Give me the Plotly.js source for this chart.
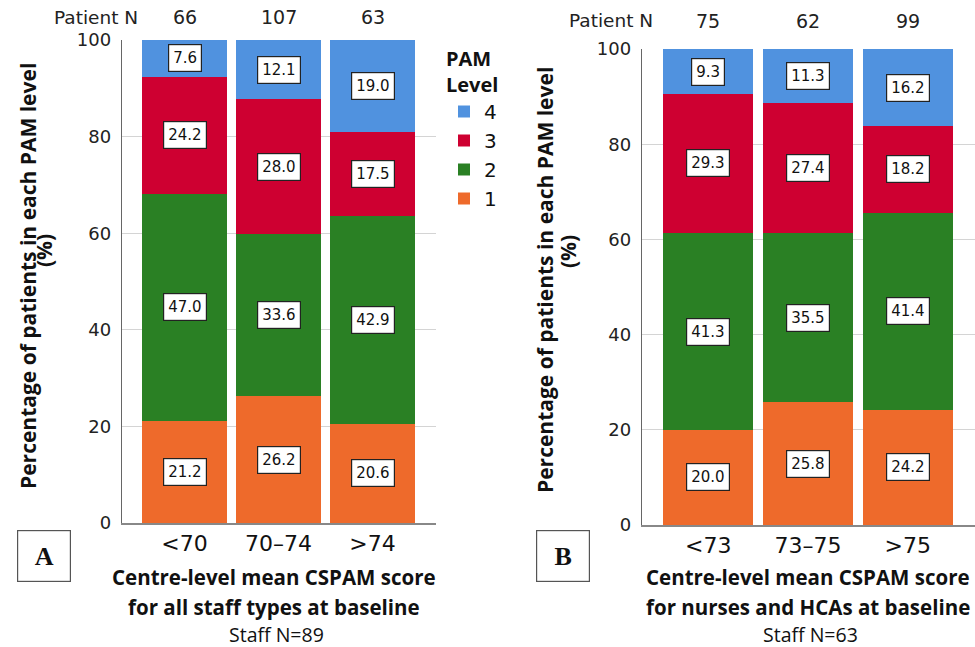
<!DOCTYPE html>
<html>
<head>
<meta charset="utf-8">
<script src="https://cdn.plot.ly/plotly-3.0.1.min.js"></script>
<style>html,body{margin:0;padding:0;background:#fff;}#chart{width:975px;height:647px;}</style>
</head>
<body>
<div id="chart"></div>
<script>
// ---- Data ----
const levels = ['1', '2', '3', '4'];
const catsA = ['<70', '70–74', '>74'];
const patientNA = [66, 107, 63];
const a_L1 = [21.2, 26.2, 20.6];
const a_L2 = [47.0, 33.6, 42.9];
const a_L3 = [24.2, 28.0, 17.5];
const a_L4 = [7.6, 12.1, 19.0];
const staffNA = 89;

const catsB = ['<73', '73–75', '>75'];
const patientNB = [75, 62, 99];
const b_L1 = [20.0, 25.8, 24.2];
const b_L2 = [41.3, 35.5, 41.4];
const b_L3 = [29.3, 27.4, 18.2];
const b_L4 = [9.3, 11.3, 16.2];
const staffNB = 63;

const colors = ['#EE6A2B', '#2A8024', '#CE0031', '#5092DF'];

const yTitle = 'Percentage of patients in each PAM level';
const xTitleA = ['Centre-level mean CSPAM score', 'for all staff types at baseline'];
const xTitleB = ['Centre-level mean CSPAM score', 'for nurses and HCAs at baseline'];

// ---- Build ----
const W = 975, H = 647;
const px = x => x / W;
const py = y => 1 - y / H;

const numFamily = 'DejaVu Sans, Verdana, sans-serif';
const txtFamily = 'Open Sans, Noto Sans, sans-serif';
const tickFont = {family: numFamily, size: 18, color: '#222'};
const boldFont = {family: txtFamily, size: 21, color: '#111', weight: 700};

const seriesA = [a_L1, a_L2, a_L3, a_L4];
const seriesB = [b_L1, b_L2, b_L3, b_L4];

const traces = [];
seriesA.forEach((vals, i) => traces.push({
  type: 'bar', x: catsA, y: vals, name: levels[i], xaxis: 'x', yaxis: 'y',
  marker: {color: colors[i], line: {width: 0}}, showlegend: true, hoverinfo: 'y'
}));
seriesB.forEach((vals, i) => traces.push({
  type: 'bar', x: catsB, y: vals, name: levels[i], xaxis: 'x2', yaxis: 'y2',
  marker: {color: colors[i], line: {width: 0}}, showlegend: false, hoverinfo: 'y'
}));

const annotations = [];
function segLabels(cats, series, xref, yref) {
  cats.forEach((c, j) => {
    let base = 0;
    series.forEach(vals => {
      const v = vals[j];
      annotations.push({
        x: c, y: base + v / 2, xref: xref, yref: yref, text: v.toFixed(1), showarrow: false,
        font: {family: numFamily, size: 15, color: '#111'},
        bgcolor: '#fff', bordercolor: '#222', borderwidth: 1.2, borderpad: 4
      });
      base += v;
    });
  });
}
segLabels(catsA, seriesA, 'x', 'y');
segLabels(catsB, seriesB, 'x2', 'y2');

function patientRow(cats, ns, xref, labelX, yPx) {
  annotations.push({x: px(labelX), y: py(yPx), xref: 'paper', yref: 'paper', text: 'Patient N',
    showarrow: false, font: {family: numFamily, size: 18.5, color: '#222'}, xanchor: 'center', yanchor: 'middle'});
  cats.forEach((c, j) => annotations.push({x: c, y: py(yPx), xref: xref, yref: 'paper', text: String(ns[j]),
    showarrow: false, font: {family: numFamily, size: 19, color: '#222'}, yanchor: 'middle'}));
}
patientRow(catsA, patientNA, 'x', 96, 17);
patientRow(catsB, patientNB, 'x2', 611, 21);

function sideTexts(cx1, cx2, cyTitle, cyPct, xcenter, xtitle, staffN, boxX, letter) {
  annotations.push({x: px(cx1), y: py(cyTitle), xref: 'paper', yref: 'paper', text: yTitle, textangle: -90,
    showarrow: false, font: boldFont, xanchor: 'center', yanchor: 'middle'});
  annotations.push({x: px(cx2), y: py(cyPct), xref: 'paper', yref: 'paper', text: '(%)', textangle: -90,
    showarrow: false, font: boldFont, xanchor: 'center', yanchor: 'middle'});
  xtitle.forEach((line, k) => annotations.push({x: px(xcenter), y: py(577 + 30 * k), xref: 'paper', yref: 'paper', text: line,
    showarrow: false, font: {family: txtFamily, size: 20.5, color: '#111', weight: 700}, xanchor: 'center', yanchor: 'middle'}));
  annotations.push({x: px(xcenter + 2), y: py(634), xref: 'paper', yref: 'paper', text: 'Staff N=' + staffN,
    showarrow: false, font: {family: txtFamily, size: 19.5, color: '#111'}, xanchor: 'center', yanchor: 'middle'});
  annotations.push({x: px(boxX), y: py(556), xref: 'paper', yref: 'paper', text: '<b>' + letter + '</b>',
    showarrow: false, font: {family: 'Liberation Serif, Times New Roman, serif', size: 26, color: '#111'},
    width: 50, height: 48, bordercolor: '#555', borderwidth: 1.2, borderpad: 1, bgcolor: '#fff',
    xanchor: 'center', yanchor: 'middle'});
}
sideTexts(28, 44, 276, 251, 274, xTitleA, staffNA, 44, 'A');
sideTexts(545, 568, 280, 252, 808, xTitleB, staffNB, 563, 'B');

const yax = (dom) => ({
  domain: dom, range: [0, 100], tickvals: [0, 20, 40, 60, 80, 100], showgrid: true,
  gridcolor: '#d4d4d4', gridwidth: 1.2, zeroline: false, showline: true, linecolor: '#666', linewidth: 1.2,
  ticks: 'outside', ticklen: 6, tickcolor: 'rgba(0,0,0,0)', tickfont: tickFont, fixedrange: true
});
const xax = (dom, anchor) => ({
  domain: dom, anchor: anchor, range: [-0.665, 2.675], type: 'category', showline: true, linecolor: '#888',
  linewidth: 1.5, showgrid: false, ticks: '',
  tickfont: {family: numFamily, size: 22, color: '#111'}, fixedrange: true
});

const layout = {
  width: W, height: H, margin: {l: 0, r: 0, t: 0, b: 0}, paper_bgcolor: '#fff', plot_bgcolor: '#fff',
  barmode: 'stack', bargap: 0.1,
  xaxis: xax([px(122), px(436)], 'y'),
  yaxis: Object.assign(yax([py(523), py(40)]), {anchor: 'x'}),
  xaxis2: xax([px(642), 1], 'y2'),
  yaxis2: Object.assign(yax([py(525), py(49)]), {anchor: 'x2'}),
  showlegend: true,
  legend: {
    x: px(444), y: py(40), xanchor: 'left', yanchor: 'top', traceorder: 'reversed',
    title: {text: 'PAM<br>Level', side: 'top', font: {family: txtFamily, size: 20, color: '#111', weight: 700}},
    font: {family: numFamily, size: 20, color: '#111'},
    bgcolor: 'rgba(0,0,0,0)', itemwidth: 30, tracegroupgap: 0
  },
  annotations: annotations
};

Plotly.newPlot('chart', traces, layout, {displayModeBar: false, staticPlot: true});
</script>
</body>
</html>
